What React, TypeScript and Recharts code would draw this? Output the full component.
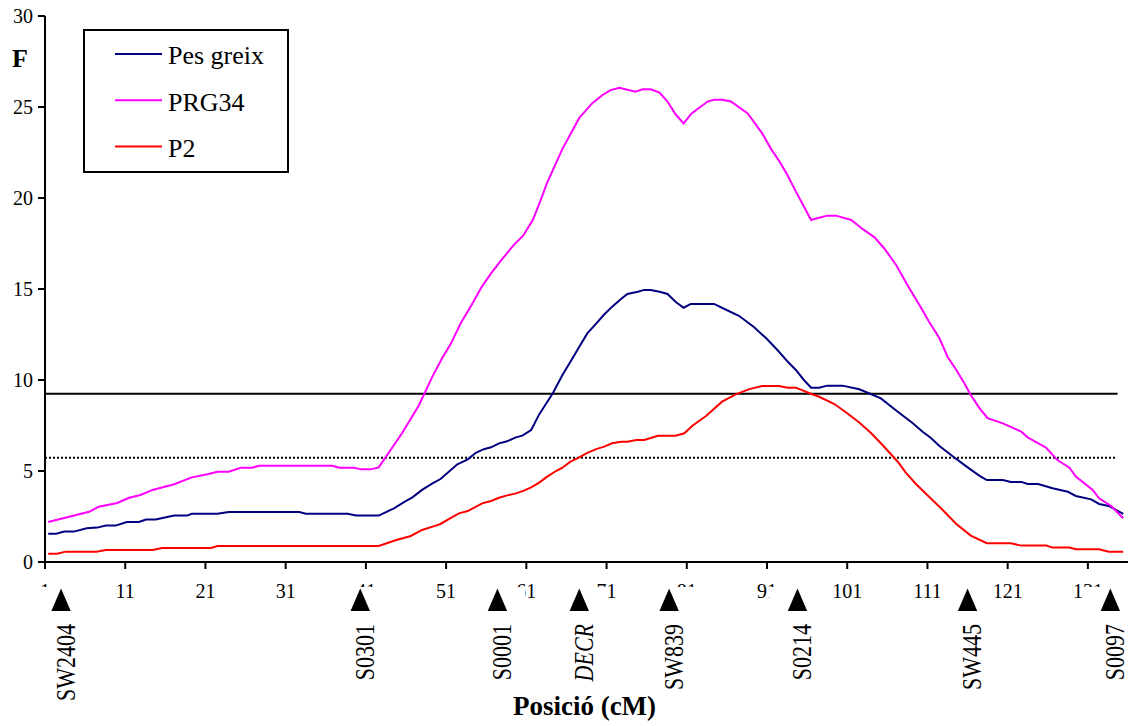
import React from 'react';
import { ComposedChart, Line, XAxis, YAxis, ReferenceLine, Legend } from 'recharts';

// Position (cM) and F values
const pesX = [1.4, 2.4, 3.4, 4.6, 6.2, 7.5, 8.6, 9.8, 11.2, 12.7, 13.6, 14.8, 15.8, 17.1, 18.7, 19.3, 22.5, 23.9, 32.7, 33.5, 38.7, 39.8, 42.6, 44.5, 45.8, 46.8, 48, 49.3, 50.3, 52.4, 53.7, 54.7, 55.7, 56.6, 57.6, 58.6, 59.7, 60.5, 61.6, 62.6, 64.3, 65.5, 66.5, 67.6, 68.6, 69.7, 70.7, 71.7, 72.8, 73.6, 74.9, 75.7, 76.5, 77.6, 78.6, 79.6, 80.6, 81.5, 84.4, 85.7, 87.5, 89.4, 90.9, 92.3, 93.6, 94.6, 95.6, 96.5, 97.5, 98.5, 100.4, 102.5, 103.7, 105.2, 107.3, 109.1, 110.4, 111.4, 112.5, 114.1, 115.8, 117.5, 118.4, 120.4, 121.4, 122.7, 123.5, 124.8, 126.6, 128.5, 129.5, 131.4, 132.4, 133.6, 135.4];
const pesF = [1.55, 1.55, 1.67, 1.67, 1.85, 1.89, 2.0, 2.0, 2.2, 2.2, 2.33, 2.33, 2.43, 2.55, 2.55, 2.65, 2.65, 2.75, 2.75, 2.65, 2.65, 2.55, 2.55, 2.95, 3.3, 3.55, 3.96, 4.32, 4.56, 5.37, 5.64, 6.0, 6.2, 6.3, 6.52, 6.63, 6.85, 6.94, 7.25, 8.11, 9.27, 10.27, 11.0, 11.83, 12.56, 13.1, 13.6, 14.03, 14.45, 14.73, 14.85, 14.95, 14.95, 14.85, 14.73, 14.3, 13.97, 14.18, 14.18, 13.9, 13.53, 12.9, 12.29, 11.65, 11.0, 10.55, 10.0, 9.58, 9.58, 9.69, 9.69, 9.49, 9.27, 8.99, 8.26, 7.65, 7.16, 6.83, 6.37, 5.82, 5.27, 4.73, 4.5, 4.5, 4.4, 4.4, 4.29, 4.29, 4.05, 3.86, 3.63, 3.44, 3.19, 3.08, 2.64];

const prgX = [1.4, 6.5, 7.7, 10, 11.5, 12.9, 14.4, 17.1, 19.3, 21.4, 22.5, 23.9, 25.4, 26.8, 27.7, 36.8, 37.7, 39.5, 40.4, 41.6, 42.6, 45.5, 47.6, 49.3, 50.5, 51.6, 52.8, 54.1, 55.5, 56.6, 58, 59.5, 60.6, 61.8, 62.6, 63.6, 65.5, 67.6, 69.2, 70.5, 71.5, 72.6, 74.6, 75.5, 76.5, 77.6, 78.6, 79.6, 80.6, 81.6, 83.6, 84.4, 85.4, 86.5, 88.6, 90.4, 91.5, 92.5, 93.5, 94.6, 95.4, 96.5, 97.5, 98.5, 99.6, 101.5, 102.9, 104.4, 105.6, 107.1, 108.5, 110, 111.2, 112.5, 113.5, 114.6, 115.6, 116.4, 117.5, 118.5, 120.4, 122.7, 123.5, 125.8, 127.2, 128.7, 129.5, 131.6, 132.4, 133.9, 135.4];
const prgF = [2.2, 2.76, 3.04, 3.24, 3.53, 3.68, 3.96, 4.27, 4.65, 4.84, 4.96, 4.96, 5.18, 5.18, 5.29, 5.29, 5.18, 5.18, 5.09, 5.09, 5.2, 7.07, 8.6, 10.2, 11.2, 12.0, 13.1, 14.07, 15.16, 15.86, 16.65, 17.45, 17.93, 18.79, 19.67, 20.84, 22.7, 24.4, 25.2, 25.66, 25.93, 26.06, 25.84, 25.97, 25.97, 25.79, 25.3, 24.6, 24.1, 24.65, 25.3, 25.4, 25.4, 25.3, 24.65, 23.55, 22.7, 22.05, 21.3, 20.35, 19.7, 18.79, 18.92, 19.03, 19.03, 18.79, 18.3, 17.84, 17.24, 16.32, 15.22, 14.12, 13.2, 12.29, 11.28, 10.55, 9.82, 9.18, 8.44, 7.9, 7.62, 7.16, 6.85, 6.28, 5.6, 5.18, 4.69, 3.96, 3.5, 3.08, 2.4];

const p2X = [1.4, 2.5, 3.6, 7.4, 8.6, 14.4, 15.6, 21.7, 22.5, 42.6, 43.6, 44.8, 46.6, 48, 49.7, 50.3, 51.6, 52.6, 53.7, 55.5, 56.6, 57.6, 58.6, 59.7, 60.7, 61.6, 62.6, 63.6, 64.7, 65.5, 66.5, 67.6, 68.6, 69.7, 70.7, 71.7, 72.8, 73.6, 74.7, 75.7, 77.4, 79.6, 80.7, 81.7, 83.4, 85.4, 87.1, 88.8, 90.4, 92.5, 93.6, 94.6, 96.3, 97.5, 99.4, 101, 102.5, 104, 105.4, 107.3, 108.3, 109.6, 111.2, 112.9, 114.6, 116.4, 118.4, 121.4, 122.7, 125.8, 126.6, 128.7, 129.5, 132.4, 133.6, 135.4];
const p2F = [0.46, 0.46, 0.57, 0.57, 0.66, 0.66, 0.77, 0.77, 0.88, 0.88, 1.03, 1.21, 1.43, 1.76, 2.0, 2.09, 2.43, 2.67, 2.8, 3.22, 3.35, 3.53, 3.66, 3.77, 3.92, 4.1, 4.36, 4.69, 5.0, 5.18, 5.51, 5.75, 6.0, 6.2, 6.34, 6.52, 6.61, 6.61, 6.7, 6.7, 6.94, 6.94, 7.07, 7.49, 8.02, 8.81, 9.21, 9.5, 9.67, 9.67, 9.58, 9.58, 9.27, 9.08, 8.68, 8.17, 7.67, 7.07, 6.43, 5.51, 4.91, 4.27, 3.59, 2.86, 2.09, 1.45, 1.03, 1.03, 0.9, 0.9, 0.79, 0.79, 0.7, 0.7, 0.57, 0.57];

const xTicks = [1, 11, 21, 31, 41, 51, 61, 71, 81, 91, 101, 111, 121, 131];
const yTicks = [0, 5, 10, 15, 20, 25, 30];

const markerNames = ['SW2404', 'S0301', 'S0001', 'DECR', 'SW839', 'S0214', 'SW445', 'S0097'];
const markerPos = [3.0, 40.3, 57.4, 67.6, 78.8, 94.8, 116.0, 133.8];
const italicMarkers = ['DECR'];

const seriesNames = ['Pes greix', 'PRG34', 'P2'];

const thresholdSolid = 9.24;
const thresholdDotted = 5.73;
const thresholdStart = 1;
const thresholdEnd = 134.7;

const zip = (xs: number[], ys: number[]) => xs.map((x, i) => ({ x, y: ys[i] }));
const pesData = zip(pesX, pesF);
const prgData = zip(prgX, prgF);
const p2Data = zip(p2X, p2F);
// regular ticks first, marker ticks last so their white patches cover the labels
const allXTicks = [...xTicks, ...markerPos];

const FONT = 'Liberation Serif, Times New Roman, serif';
const X_TICK_SIZE = 7;
const X_TICK_MARGIN = 15;

const XTick = (props: any) => {
  const { x, y, payload } = props;
  const axisY = y - X_TICK_SIZE - X_TICK_MARGIN;
  const idx = markerPos.indexOf(payload.value);
  if (idx < 0) {
    return (
      <g>
        <line x1={x} x2={x} y1={axisY} y2={axisY + X_TICK_SIZE} stroke="#000" strokeWidth={2} />
        <text x={x} y={y} dy="0.71em" textAnchor="middle" fontFamily={FONT} fontSize={20} fill="#000">
          {payload.value}
        </text>
      </g>
    );
  }
  const name = markerNames[idx];
  const italic = italicMarkers.includes(name);
  const cx = x;
  const cy = axisY;
  return (
    <g>
      <rect x={cx - 28} y={cy + 25} width={56} height={30} fill="#fff" />
      <polygon
        points={`${cx},${cy + 26.5} ${cx - 9.7},${cy + 49} ${cx + 9.7},${cy + 49}`}
        fill="#000"
      />
      <text
        transform={`translate(${cx + 13.5},${cy + 62}) rotate(-90) scale(1,1.2)`}
        textAnchor="end"
        fontFamily={FONT}
        fontSize={22}
        fontStyle={italic ? 'italic' : 'normal'}
        fill="#000"
      >
        {name}
      </text>
    </g>
  );
};

const renderLegend = (props: any) => {
  const payload = props.payload || [];
  const items = seriesNames
    .map((n) => payload.find((p: any) => p.value === n))
    .filter(Boolean);
  return (
    <svg width={206} height={144} style={{ display: 'block' }}>
      <rect x={1} y={1} width={204} height={142} fill="#fff" stroke="#000" strokeWidth={2} />
      {items.map((it: any, i: number) => {
        const yy = 25 + i * 46.3;
        return (
          <g key={it.value}>
            <line x1={32} x2={79} y1={yy} y2={yy} stroke={it.color} strokeWidth={2} />
            <text x={85} y={yy + 10.3} fontFamily={FONT} fontSize={26} fill="#000">
              {it.value}
            </text>
          </g>
        );
      })}
    </svg>
  );
};

export default function App() {
  const tickStyle = { fontFamily: FONT, fontSize: 20, fill: '#000' };
  return (
    <div style={{ position: 'absolute', left: 0, top: 0, width: 1128, height: 726, background: '#fff' }}>
      <ComposedChart
        width={1128}
        height={726}
        margin={{ top: 16, right: 0, bottom: 0, left: 0 }}
        style={{ fontFamily: FONT }}
      >
        <XAxis
          dataKey="x"
          type="number"
          domain={[1, 136]}
          ticks={allXTicks}
          interval={0}
          height={164}
          tick={<XTick />}
          tickSize={X_TICK_SIZE}
          tickMargin={X_TICK_MARGIN}
          axisLine={{ stroke: '#000', strokeWidth: 2 }}
          tickLine={false}
          label={{
            content: (p: any) => {
              const vb = p.viewBox || { x: 45, width: 1083 };
              return (
                <text
                  x={vb.x + vb.width / 2 - 2}
                  y={715}
                  textAnchor="middle"
                  fontFamily={FONT}
                  fontWeight="bold"
                  fontSize={27}
                  fill="#000"
                >
                  Posició (cM)
                </text>
              );
            },
          }}
        />
        <YAxis
          type="number"
          domain={[0, 30]}
          ticks={yTicks}
          interval={0}
          width={45}
          tick={tickStyle}
          tickSize={7}
          tickMargin={5}
          axisLine={{ stroke: '#000', strokeWidth: 2 }}
          tickLine={{ stroke: '#000', strokeWidth: 2 }}
          label={{
            content: () => (
              <text x={12} y={67} fontFamily={FONT} fontWeight="bold" fontSize={26} fill="#000">
                F
              </text>
            ),
          }}
        />
        <ReferenceLine
          segment={[{ x: thresholdStart, y: thresholdSolid }, { x: thresholdEnd, y: thresholdSolid }]}
          stroke="#000"
          strokeWidth={2}
        />
        <ReferenceLine
          segment={[{ x: thresholdStart, y: thresholdDotted }, { x: thresholdEnd - 0.3, y: thresholdDotted }]}
          stroke="#000"
          strokeWidth={2}
          strokeDasharray="2 2"
        />
        <Line data={pesData} dataKey="y" name="Pes greix" stroke="#000080" strokeWidth={2} dot={false} type="linear" isAnimationActive={false} />
        <Line data={prgData} dataKey="y" name="PRG34" stroke="#FF00FF" strokeWidth={2} dot={false} type="linear" isAnimationActive={false} />
        <Line data={p2Data} dataKey="y" name="P2" stroke="#FF0000" strokeWidth={2} dot={false} type="linear" isAnimationActive={false} />
        <Legend
          layout="horizontal"
          verticalAlign="middle"
          align="center"
          wrapperStyle={{ left: 83, top: 29, width: 206, height: 144 }}
          content={renderLegend}
        />
      </ComposedChart>
    </div>
  );
}
